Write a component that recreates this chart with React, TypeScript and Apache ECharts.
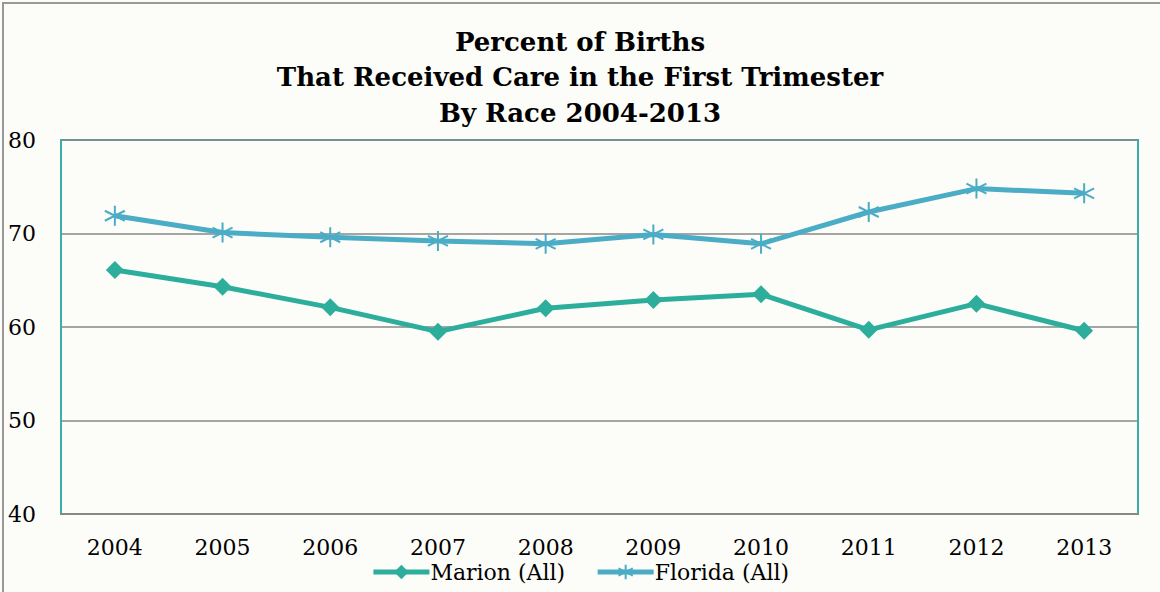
import React, { useEffect, useRef } from "react";
import * as echarts from "echarts";

const years = ["2004", "2005", "2006", "2007", "2008", "2009", "2010", "2011", "2012", "2013"];
const marion = [66.1, 64.3, 62.1, 59.5, 62.0, 62.9, 63.5, 59.7, 62.5, 59.6];
const florida = [71.9, 70.1, 69.6, 69.2, 68.9, 69.9, 68.9, 72.3, 74.8, 74.3];
const titleLines = ["Percent of Births", "That Received Care in the First Trimester", "By Race 2004-2013"];

const FONT = "'DejaVu Serif', serif";
const MARION_COLOR = "#2DAE9C";
const FLORIDA_COLOR = "#4BACC6";
const STAR = "path://M10 0 L10 20 M1.34 5 L18.66 15 M1.34 15 L18.66 5";

export default function App() {
  const ref = useRef<HTMLDivElement>(null);
  useEffect(() => {
    document.body.style.margin = "0";
    const chart = echarts.init(ref.current!, null, { renderer: "svg" });
    chart.setOption({
      animation: false,
      backgroundColor: "#FCFCF8",
      textStyle: { fontFamily: FONT },
      title: {
        text: titleLines.join("\n"),
        left: "center",
        top: 19,
        textStyle: { fontFamily: FONT, fontWeight: "bold", fontSize: 26, lineHeight: 35.5, color: "#000" },
      },
      graphic: [
        {
          type: "rect",
          shape: { x: 3, y: 3, width: 1170, height: 600 },
          style: { fill: "none", stroke: "#999", lineWidth: 2 },
          silent: true,
        },
      ],
      grid: {
        left: 61,
        top: 140,
        width: 1077,
        height: 374,
        show: true,
        borderColor: "#3AAFA9",
        borderWidth: 2,
        backgroundColor: "transparent",
      },
      legend: {
        bottom: 4,
        left: "center",
        itemWidth: 56,
        itemHeight: 18,
        itemGap: 30,
        lineStyle: { width: 5 },
        textStyle: { fontFamily: FONT, fontSize: 22, color: "#000", padding: [0, 0, 0, -4] },
        data: ["Marion (All)", "Florida (All)"],
      },
      xAxis: {
        type: "category",
        data: years,
        boundaryGap: true,
        axisLine: { show: true, lineStyle: { color: "#888", width: 2 } },
        axisTick: { show: false },
        axisLabel: { fontFamily: FONT, fontSize: 22, color: "#000", margin: 22 },
      },
      yAxis: {
        type: "value",
        min: 40,
        max: 80,
        interval: 10,
        axisLine: { show: false },
        axisTick: { show: false },
        axisLabel: { fontFamily: FONT, fontSize: 22, color: "#000", margin: 25 },
        splitLine: { show: true, lineStyle: { color: "#888", width: 1.5 } },
      },
      series: [
        {
          name: "Marion (All)",
          type: "line",
          data: marion,
          symbol: "diamond",
          symbolSize: 18,
          lineStyle: { color: MARION_COLOR, width: 5 },
          itemStyle: { color: MARION_COLOR },
        },
        {
          name: "Florida (All)",
          type: "line",
          data: florida,
          symbol: STAR,
          symbolSize: 20,
          lineStyle: { color: FLORIDA_COLOR, width: 5 },
          itemStyle: { color: FLORIDA_COLOR, borderColor: FLORIDA_COLOR, borderWidth: 2 },
        },
      ],
    });
    return () => chart.dispose();
  }, []);
  return <div ref={ref} style={{ width: 1160, height: 592 }} />;
}
